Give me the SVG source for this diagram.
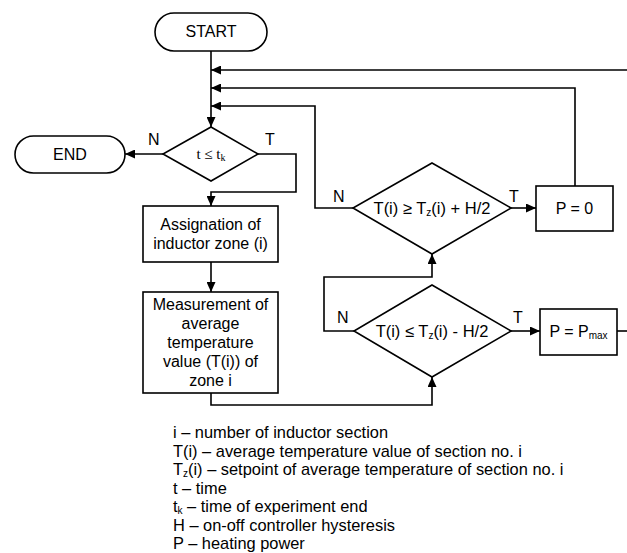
<svg xmlns="http://www.w3.org/2000/svg" width="627" height="553" viewBox="0 0 627 553">
<style>
.s{fill:#fff;stroke:#000;stroke-width:1.6}
.c{fill:none;stroke:#000;stroke-width:1.6}
text{font-family:"Liberation Sans",Arial,sans-serif;font-size:16px;fill:#000}
.m{text-anchor:middle}
.d{font-size:16.5px}
.lg{font-size:16.4px}
</style>
<defs>
<marker id="a" markerUnits="userSpaceOnUse" markerWidth="10" markerHeight="9" refX="10" refY="4.5" orient="auto">
<path d="M0,0 L10,4.5 L0,9 z" fill="#000"/>
</marker>
</defs>
<rect width="627" height="553" fill="#fff"/>
<g id="connectors">
<path class="c" d="M211,51 V127" marker-end="url(#a)"/>
<path class="c" d="M627,70 H211" marker-end="url(#a)"/>
<path class="c" d="M575,186 V88 H211" marker-end="url(#a)"/>
<path class="c" d="M353,208 H315 V106 H211" marker-end="url(#a)"/>
<path class="c" d="M163,154 H125" marker-end="url(#a)"/>
<path class="c" d="M258,154 H296 V192 H211 V206" marker-end="url(#a)"/>
<path class="c" d="M211,262 V292" marker-end="url(#a)"/>
<path class="c" d="M211,393 V405 H432 V377" marker-end="url(#a)"/>
<path class="c" d="M354,331 H324 V277 H432 V254" marker-end="url(#a)"/>
<path class="c" d="M511,331 H540" marker-end="url(#a)"/>
<path class="c" d="M617,331 H627"/>
<path class="c" d="M511,208 H536" marker-end="url(#a)"/>
<text x="148" y="145">N</text>
<text x="265" y="145">T</text>
<text x="333" y="202">N</text>
<text x="509" y="202">T</text>
<text x="337" y="323">N</text>
<text x="513" y="323">T</text>
</g>
<g id="start">
<rect class="s" x="155" y="13" width="112" height="38" rx="19"/>
<text class="m" x="211" y="37">START</text>
</g>
<g id="end">
<rect class="s" x="15" y="136" width="110" height="37" rx="18.5"/>
<text class="m" x="70" y="160">END</text>
</g>
<g id="decision-time">
<polygon class="s" points="211,127 258,154 211,181 163,154"/>
<text class="m" x="211" y="159" style="font-family:'Liberation Serif',serif;font-size:15px">t ≤ t<tspan font-size="10" dy="2">k</tspan></text>
</g>
<g id="assignation">
<rect class="s" x="143" y="206" width="135" height="56"/>
<text class="m" x="210.5" y="230">Assignation of</text>
<text class="m" x="210.5" y="249">inductor zone (i)</text>
</g>
<g id="measurement">
<rect class="s" x="143" y="292" width="135" height="101"/>
<text class="m" x="210.5" y="310">Measurement of</text>
<text class="m" x="210.5" y="329">average</text>
<text class="m" x="210.5" y="348">temperature</text>
<text class="m" x="210.5" y="367">value (T(i)) of</text>
<text class="m" x="210.5" y="386">zone i</text>
</g>
<g id="decision-upper">
<polygon class="s" points="432,163 511,208 432,254 353,208"/>
<text class="m d" x="432" y="214">T(i) ≥ T<tspan font-size="10" dy="2">z</tspan><tspan dy="-2">(i) + H/2</tspan></text>
</g>
<g id="p-zero">
<rect class="s" x="536" y="186" width="77" height="45"/>
<text class="m" x="574.5" y="214">P = 0</text>
</g>
<g id="decision-lower">
<polygon class="s" points="432,285 511,331 432,377 354,331"/>
<text class="m d" x="432" y="337">T(i) ≤ T<tspan font-size="10" dy="2">z</tspan><tspan dy="-2">(i) - H/2</tspan></text>
</g>
<g id="p-max">
<rect class="s" x="540" y="309" width="77" height="46"/>
<text class="m" x="578.5" y="337">P = P<tspan font-size="10" dy="2">max</tspan></text>
</g>
<g id="legend">
<text class="lg" x="173" y="438">i – number of inductor section</text>
<text class="lg" x="173" y="456.5">T(i) – average temperature value of section no. i</text>
<text class="lg" x="173" y="475">T<tspan font-size="10" dy="2">z</tspan><tspan dy="-2">(i) – setpoint of average temperature of section no. i</tspan></text>
<text class="lg" x="173" y="493.5">t – time</text>
<text class="lg" x="173" y="512">t<tspan font-size="10" dy="2">k</tspan><tspan dy="-2"> – time of experiment end</tspan></text>
<text class="lg" x="173" y="530.5">H – on-off controller hysteresis</text>
<text class="lg" x="173" y="549">P – heating power</text>
</g>
</svg>
